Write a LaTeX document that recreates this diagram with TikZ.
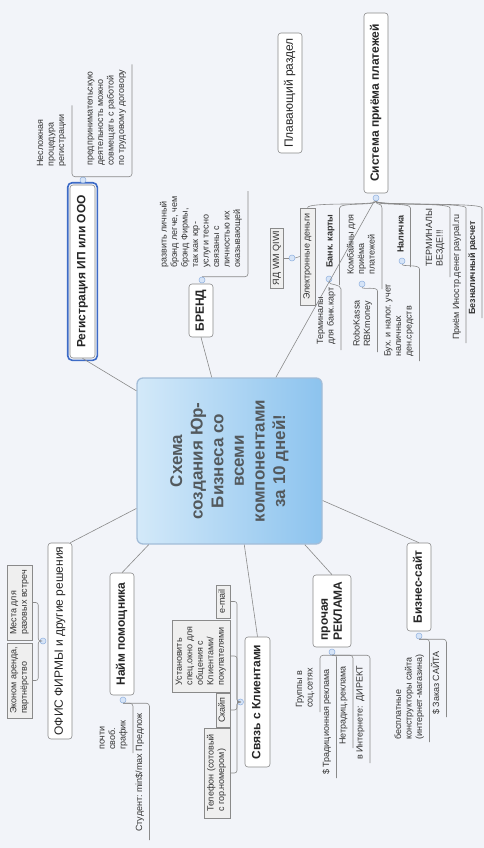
\documentclass[tikz,border=0pt]{standalone}
\usepackage{fontspec}
\setmainfont{Liberation Sans}
\usepackage{graphicx}
\usetikzlibrary{calc}
\frenchspacing
\definecolor{bg}{HTML}{F2F4F9}
\definecolor{ln}{HTML}{8A8A8A}
\definecolor{selblue}{HTML}{3D6BC6}
\definecolor{boxfill}{HTML}{EFEFEF}
\definecolor{mkfill}{HTML}{D6E4F7}
\definecolor{mkdraw}{HTML}{8FB0DF}
\definecolor{cleft}{HTML}{D3E9F9}
\definecolor{cright}{HTML}{8CC3EE}
\definecolor{cborder}{HTML}{A3BDD8}
\definecolor{ctext}{HTML}{53595D}
\newcommand\fsm{\fontsize{9}{10.5}\selectfont}
\newcommand\RT[1]{\rotatebox{90}{\begin{tabular}{@{}l@{}}#1\end{tabular}}}
\newcommand\RC[1]{\rotatebox{90}{\begin{tabular}{@{}c@{}}#1\end{tabular}}}
\tikzset{
  conn/.style={draw=ln, line width=0.6pt},
  topic/.style={draw=ln, fill=white, rounded corners=3pt, inner sep=0pt, line width=0.6pt,
    font=\fontsize{12}{14}\selectfont\bfseries, text=black!85},
  topicn/.style={topic, font=\fontsize{12}{14}\selectfont},
  subbox/.style={draw=ln, fill=boxfill, inner sep=0pt, line width=0.5pt, font=\fsm, text=black!80},
  lbl/.style={inner sep=0pt, anchor=south east, font=\fsm, text=black!80},
  lblb/.style={lbl, font=\fsm\bfseries},
  mk/.style={circle, minimum size=6pt, inner sep=0pt, fill=mkfill, draw=mkdraw, line width=0.5pt},
  central/.style={draw=cborder, line width=1.3pt, rounded corners=6pt, left color=cleft, right color=cright,
    minimum width=185pt, minimum height=166pt, inner sep=0pt,
    font=\fontsize{17}{20.6}\selectfont\bfseries, text=ctext}
}
\begin{document}
\begin{tikzpicture}[x=1pt,y=-1pt]
\useasboundingbox (0,0) rectangle (484,848);
\fill[bg] (0,0) rectangle (484,848);

% central
\node[central] (C) at (229.5,461) {\RC{Схема\\создания Юр-\\Бизнеса со\\всеми\\компонентами\\за 10 дней!}};

% main topics
\node[topic, minimum width=25pt, minimum height=173pt] (rg) at (82.5,271.5) {\RT{Регистрация ИП или ООО}};
\draw[selblue, line width=1.6pt, rounded corners=4.5pt] ($(rg.north west)+(-2,-2)$) rectangle ($(rg.south east)+(2,2)$);
\node[topic, minimum width=24pt, minimum height=53pt] (br) at (201,310.5) {\RT{БРЕНД}};
\node[topicn, minimum width=24pt, minimum height=120pt] (fl) at (290,93) {\RT{Плавающий раздел}};
\node[topic, minimum width=24pt, minimum height=180pt] (S) at (376,103) {\RT{Система приёма платежей}};
\node[topicn, minimum width=24pt, minimum height=196pt] (of) at (60,641) {\RT{ОФИС ФИРМЫ и другие решения}};
\node[topic, minimum width=24pt, minimum height=122pt] (nm) at (122,634) {\RT{Найм помощника}};
\node[topic, minimum width=25pt, minimum height=130pt] (sv) at (257.5,702) {\RT{Связь с Клиентами}};
\node[topic, minimum width=38pt, minimum height=72pt] (ad) at (332,611) {\RT{прочая\\РЕКЛАМА}};
\node[topic, minimum width=24pt, minimum height=88pt] (bz) at (419,587) {\RT{Бизнес-сайт}};

% markers
\node[mk] (mr) at (83,180) {};
\node[mk] (mb) at (202,280) {};
\node[mk] (ms) at (376,198) {};
\node[mk] (me) at (292,258) {};
\node[mk] (mbk) at (329,279) {};
\node[mk] (mkb) at (362,284) {};
\node[mk] (mnl) at (402,261) {};
\node[mk] (mo) at (43,641) {};
\node[mk] (mn) at (123,700) {};
\node[mk] (msv) at (240.5,702) {};
\node[mk] (mad) at (332,652) {};
\node[mk] (mbz) at (419,636) {};

% central connectors
\draw[conn] (C.143.7) -- (rg.south);
\draw[conn] (C.102.6) -- (br.south);
\draw[conn] (C.61.3) -- (ms);
\draw[conn] (C.-153.6) -- (of.84);
\draw[conn] (C.-134.5) -- (nm.north);
\draw[conn] (C.-80.8) -- (sv.north);
\draw[conn] (C.-48.5) -- (ad.north);
\draw[conn] (C.-23.9) -- (bz.north);

% Registration children
\node[lbl] (r1) at (67.5,167) {\RT{Несложная\\процедура\\регистрации}};
\node[lbl] (r2) at (127.5,166) {\RT{предпринимательскую\\деятельность можно\\совмещать с работой\\по трудовому договору}};
\draw[conn, rounded corners=3pt] (mr.north) -| ($(r1.north east)+(4.5,-9)$);
\draw[conn, rounded corners=3pt] (mr.north) -| ($(r2.north east)+(4.5,-5)$);

% Brand child
\node[lbl] (b1) at (243.5,268) {\RT{развить личный\\брэнд легче, чем\\брэнд Фирмы,\\так как юр-\\услуги тесно\\связаны с\\личностью их\\оказывающей}};
\draw[conn, rounded corners=3pt] (mb.north) -| ($(b1.north east)+(4.5,-5)$);

% Payment system children
\node[subbox, minimum width=15pt, minimum height=97pt] (el) at (307.5,256.5) {\RT{Электронные деньги}};
\node[subbox, minimum width=13pt, minimum height=60pt] (ya) at (277,258) {\RT{ЯД WM QIWI}};
\draw[conn] (ya.east) -- (me.west);
\draw[conn] (me.east) -- (el.west);
\node[lblb] (bk) at (336,268) {\RT{Банк. карты}};
\node[lbl] (tm) at (337,345) {\RT{Терминалы\\для банк.карт}};
\node[lbl] (kb) at (378,275) {\RT{Комбайны для\\приёма\\платежей}};
\node[lbl] (rb) at (373.5,347) {\RT{RoboKassa\\RBKmoney}};
\node[lblb] (nl) at (407,253) {\RT{Наличка}};
\node[lbl] (bh) at (415,357) {\RT{Бух. и налог. учет\\наличных\\ден.средств}};
\node[lbl] (tv) at (446,267) {\RT{ТЕРМИНАЛЫ\\ВЕЗДЕ!!!}};
\node[lbl] (pr) at (462.5,340) {\RT{Приём Иностр.денег paypal.ru}};
\node[lblb] (bn) at (478.5,315) {\RT{Безналичный расчет}};

\coordinate (bkT) at (339.5,208); \coordinate (bkB) at (339.5,285);
\coordinate (kbT) at (382,208);   \coordinate (kbB) at (382,289);
\coordinate (nlT) at (410.5,208); \coordinate (nlB) at (410.5,267);
\coordinate (tvT) at (450,208);   \coordinate (tvB) at (450,277);
\coordinate (prT) at (466,208);   \coordinate (prB) at (466,343);
\coordinate (bnT) at (482,208);   \coordinate (bnB) at (482,318);
\coordinate (tmT) at (341,289);   \coordinate (tmB) at (341,350);
\coordinate (rbT) at (377.5,291); \coordinate (rbB) at (377.5,352);
\coordinate (bhT) at (419.5,269); \coordinate (bhB) at (419.5,361);

\draw[conn] (ms) .. controls +(0,8) and +(0,-6) .. (el.north);
\draw[conn] (ms) .. controls +(0,8) and +(0,-6) .. (bkT) -- (bkB);
\draw[conn] (ms) .. controls +(0,8) and +(0,-6) .. (kbT) -- (kbB);
\draw[conn] (ms) .. controls +(0,8) and +(0,-6) .. (nlT) -- (nlB);
\draw[conn] (ms) .. controls +(0,8) and +(0,-6) .. (tvT) -- (tvB);
\draw[conn] (ms) .. controls +(0,8) and +(0,-6) .. (prT) -- (prB);
\draw[conn] (ms) .. controls +(0,8) and +(0,-6) .. (bnT) -- (bnB);
\draw[conn] (mbk) .. controls +(0,6) and +(0,-5) .. (tmT) -- (tmB);
\draw[conn] (mkb) .. controls +(0,6) and +(0,-5) .. (rbT) -- (rbB);
\draw[conn] (mnl) .. controls +(0,6) and +(0,-5) .. (bhT) -- (bhB);

% Office children
\node[subbox, minimum width=25pt, minimum height=75pt] (o1) at (19.5,602.5) {\RT{Места для\\разовых встреч}};
\node[subbox, minimum width=25pt, minimum height=75pt] (o2) at (19.5,680.5) {\RT{Эконом аренда,\\партнёрство}};
\draw[conn, rounded corners=2.5pt] (o1.east) -- ++(6,0) |- (mo.west);
\draw[conn, rounded corners=2.5pt] (o2.east) -- ++(6,0) |- (mo.west);

% Hiring children
\node[lbl] (n1) at (129,750) {\RT{почти\\своб.\\график}};
\node[lbl] (n2) at (145.5,832) {\RT{Студент: min\$/max Предлож}};
\draw[conn, rounded corners=3pt] (mn.south) -| ($(n1.south east)+(4,3)$);
\draw[conn, rounded corners=3pt] (mn.south) -| ($(n2.south east)+(4,8)$);

% Client contact children
\node[subbox, minimum width=14pt, minimum height=33pt, anchor=east] (c1) at (230,601.5) {\RT{e-mail}};
\node[subbox, minimum width=58pt, minimum height=72pt, anchor=east] (c2) at (230,656) {\RT{Установить\\спец.окно для\\общения с\\Клиентами/\\покупателями}};
\node[subbox, minimum width=14pt, minimum height=34pt, anchor=east] (c3) at (230,710) {\RT{Скайп}};
\node[subbox, minimum width=26pt, minimum height=90pt, anchor=east] (c4) at (230,773) {\RT{Телефон (сотовый\\с гор.номером)}};
\draw[conn, rounded corners=2.5pt] (c1.east) -- ++(7,0) |- (msv.west);
\draw[conn, rounded corners=2.5pt] (c2.east) -- ++(7,0) |- (msv.west);
\draw[conn, rounded corners=2.5pt] (c3.east) -- ++(7,0) |- (msv.west);
\draw[conn, rounded corners=2.5pt] (c4.east) -- ++(7,0) |- (msv.west);

% Advertising children
\node[lbl] (a1) at (316,708) {\RT{Группы в\\соц.сетях}};
\node[lbl] (a2) at (332.5,775) {\RT{\$ Традиционная реклама}};
\node[lbl] (a3) at (349,745) {\RT{Нетрадиц.реклама}};
\node[lbl] (a4) at (366,760) {\RT{в Интернете:\enspace ДИРЕКТ}};
\draw[conn, rounded corners=3pt] (mad.south) -| ($(a1.south east)+(4,4)$);
\draw[conn, rounded corners=2pt] (mad.south) -| ($(a2.south east)+(4,3)$);
\draw[conn, rounded corners=3pt] (mad.south) -| ($(a3.south east)+(4,3)$);
\draw[conn, rounded corners=3pt] (mad.south) -| ($(a4.south east)+(4,3)$);

% Website children
\node[lbl] (z1) at (425.5,740) {\RT{бесплатные\\конструкторы сайта\\(интернет-магазина)}};
\node[lbl] (z2) at (442.5,715) {\RT{\$ Заказ САЙТА}};
\draw[conn, rounded corners=3pt] (mbz.south) -| ($(z1.south east)+(4,2)$);
\draw[conn, rounded corners=3pt] (mbz.south) -| ($(z2.south east)+(4,2)$);
\end{tikzpicture}
\end{document}
